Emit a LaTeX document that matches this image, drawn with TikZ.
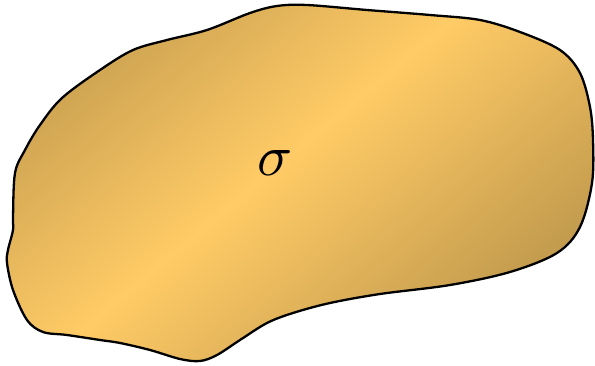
\documentclass[tikz,border=0pt]{standalone}
\definecolor{edgec}{HTML}{C49C4E}
\definecolor{centc}{HTML}{FFCB66}
\pgfdeclareverticalshading{blobsh}{100bp}{color(0bp)=(edgec); color(27bp)=(edgec); color(53bp)=(centc); color(79bp)=(edgec); color(100bp)=(edgec)}
\begin{document}
\begin{tikzpicture}[x=1pt,y=-1pt,
  blob/.style={draw=black,line width=2.3pt,line join=round,
    shading=blobsh,shading angle=40}]
\useasboundingbox (0,0) rectangle (595,366);
\shade[blob] plot[smooth cycle,tension=0.55] coordinates{
 (277,6) (307,5) (367,10) (430,15) (480,20) (520,32) (560,50) (580,73)
 (590,107) (593,140) (592,183) (580,227) (557,253) (510,272) (450,285)
 (380,294) (330,303) (293,313) (267,323) (240,340) (217,355) (200,361)
 (180,359) (150,350) (120,343) (100,340) (67,335) (43,332) (27,320)
 (13,290) (7,263) (8,250) (13,230) (13,217) (15,173) (25,150) (40,125)
 (62,98) (100,70) (133,50) (167,40) (207,30) (250,13)};
\node[scale=5.8] (sigma) at (275,163) {$\sigma$};
\end{tikzpicture}
\end{document}
